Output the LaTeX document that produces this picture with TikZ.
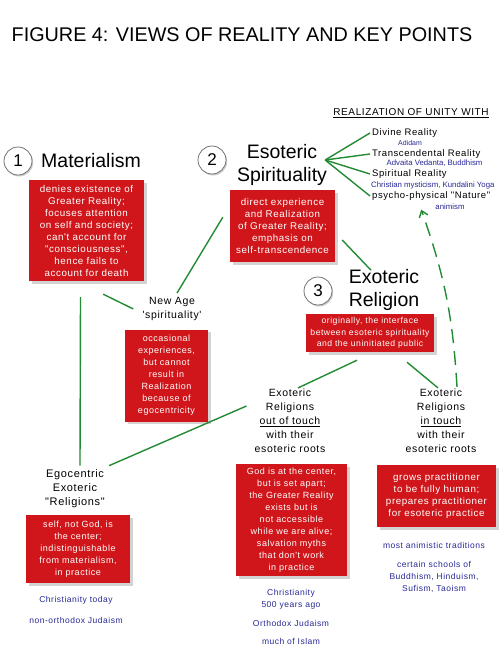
\documentclass[tikz,border=0pt]{standalone}
\usepackage{fontspec}
\newfontfamily\af{Liberation Sans}
\newfontfamily\afsp{Liberation Sans}[LetterSpace=6]
\usetikzlibrary{arrows.meta,shadows}
\definecolor{boxred}{RGB}{208,22,26}
\definecolor{linkgreen}{RGB}{34,139,52}
\definecolor{noteblue}{RGB}{40,40,150}

\begin{document}
\begin{tikzpicture}[
    x=1pt, y=-1pt,
    redbox/.style={rectangle, fill=boxred, text=white, align=center, inner sep=2pt, font=\afsp\fontsize{9}{12}\selectfont, drop shadow={shadow xshift=2.5pt, shadow yshift=-2.5pt, opacity=0.35}},
    bigred/.style={redbox, font=\afsp\fontsize{9.8}{12}\selectfont},
    numcirc/.style={circle, draw=black!55, fill=white, line width=0.8pt, minimum size=28pt, inner sep=0pt, font=\af\fontsize{17}{17}\selectfont, drop shadow={shadow xshift=1.2pt, shadow yshift=-1.5pt, opacity=0.4}},
    heading/.style={align=center, font=\af\fontsize{19.5}{23}\selectfont, inner sep=1pt},
    plaintext/.style={align=center, font=\afsp\fontsize{10.5}{14}\selectfont, inner sep=1pt},
    unity/.style={anchor=west, font=\afsp\fontsize{9.5}{11}\selectfont, inner sep=1pt},
    examples/.style={align=center, text=noteblue, font=\afsp\fontsize{8.5}{12}\selectfont, inner sep=1pt},
    subnote/.style={text=noteblue, font=\af\fontsize{7.8}{9}\selectfont, inner sep=0pt},
    greenlink/.style={draw=linkgreen, line width=1.4pt},
]
\useasboundingbox (0,0) rectangle (500,648);

\node[font=\af\fontsize{19.8}{24}\selectfont] (title) at (242,35) {FIGURE 4: VIEWS OF REALITY AND KEY POINTS};

% 1: materialism
\node[numcirc] (c1) at (18,161) {1};
\node[heading, anchor=west] (mat) at (40,161) {Materialism};
\node[bigred, minimum width=115pt, minimum height=101pt] (matbox) at (86.5,230.5) {denies existence of\\Greater Reality;\\focuses attention\\on self and society;\\can't account for\\"consciousness",\\hence fails to\\account for death};

% 2: esoteric spirituality
\node[numcirc] (c2) at (212,160) {2};
\node[heading] (eso) at (282,165) {Esoteric\\Spirituality};
\node[bigred, minimum width=105pt, minimum height=72pt] (esobox) at (282.5,226) {direct experience\\and Realization\\of Greater Reality;\\emphasis on\\self-transcendence};

% realization of unity
\node[font=\afsp\fontsize{10}{11}\selectfont] (unityhead) at (411,113) {\underline{REALIZATION OF UNITY WITH}};
\node[unity] (divine) at (371,133) {Divine Reality};
\node[subnote, font=\af\fontsize{7}{8}\selectfont] (adidam) at (410,143) {Adidam};
\node[unity] (trans) at (371,154) {Transcendental Reality};
\node[subnote] (advaita) at (434.5,163.5) {Advaita Vedanta, Buddhism};
\node[unity] (spirit) at (371,174) {Spiritual Reality};
\node[subnote, anchor=west] (mystic) at (371,185) {Christian mysticism, Kundalini Yoga};
\node[unity] (psycho) at (371,196) {psycho-physical "Nature"};
\node[subnote] (animism) at (450,207) {animism};

\coordinate (fan) at ([shift={(-3,-5)}]eso.east);
\foreach \target in {divine, trans, spirit, psycho}
    \draw[greenlink] (fan) -- ([xshift=-1pt]\target.west);

% new age
\node[plaintext] (newage) at (172,309) {New Age\\'spirituality'};
\node[redbox, minimum width=83pt, minimum height=92pt] (nabox) at (166.5,375.5) {occasional\\experiences,\\but cannot\\result in\\Realization\\because of\\egocentricity};

% 3: exoteric religion
\node[numcirc] (c3) at (318,291) {3};
\node[heading] (exo) at (384,290) {Exoteric\\Religion};
\node[redbox, minimum width=128pt, minimum height=38pt, font=\afsp\fontsize{8.6}{11.5}\selectfont] (exobox) at (370,333) {originally, the interface\\between esoteric spirituality\\and the uninitiated public};

% exoteric branches
\node[plaintext] (outof) at (290,421) {Exoteric\\Religions\\\underline{out of touch}\\with their\\esoteric roots};
\node[plaintext] (intouch) at (441,421) {Exoteric\\Religions\\\underline{in touch}\\with their\\esoteric roots};
\node[redbox, minimum width=111pt, minimum height=112pt] (godbox) at (291.5,520) {God is at the center,\\but is set apart;\\the Greater Reality\\exists but is\\not accessible\\while we are alive;\\salvation myths\\that don't work\\in practice};
\node[examples] (past) at (291,599) {Christianity\\500 years ago};
\node[examples] (orthodox) at (291,623) {Orthodox Judaism};
\node[examples] (islam) at (291,641) {much of Islam};
\node[bigred, minimum width=119pt, minimum height=62pt] (growbox) at (436.5,496) {grows practitioner\\to be fully human;\\prepares practitioner\\for esoteric practice};
\node[examples] (animistic) at (434,545) {most animistic traditions};
\node[examples] (schools) at (434,577) {certain schools of\\Buddhism, Hinduism,\\Sufism, Taoism};

% egocentric
\node[plaintext, font=\afsp\fontsize{11}{14}\selectfont] (ego) at (75,489) {Egocentric\\Exoteric\\"Religions"};
\node[redbox, minimum width=104pt, minimum height=68pt] (egobox) at (78,549) {self, not God, is\\the center;\\indistinguishable\\from materialism,\\in practice};
\node[examples] (today) at (76,600) {Christianity today};
\node[examples] (nonortho) at (76,620) {non-orthodox Judaism};

% connectors
\draw[greenlink] ([shift={(-41,13)}]matbox.south east) -- ([xshift=-8pt]newage.west);
\draw[greenlink] ([shift={(-6,16)}]matbox.south) -- ([shift={(5,-3)}]ego.north);
\draw[greenlink] ([shift={(5,-3)}]newage.north) -- ([shift={(-7,-45)}]esobox.south west);
\draw[greenlink] ([shift={(7,14)}]esobox.east) -- ([shift={(-13,2)}]exo.north);
\draw[greenlink] ([shift={(-13,8)}]exobox.south) -- ([shift={(8,0)}]outof.north);
\draw[greenlink] ([shift={(37,10)}]exobox.south) -- ([shift={(-3,0)}]intouch.north);
\draw[greenlink] ([shift={(-7,-15)}]outof.west) -- ([shift={(3,-3)}]ego.north east);
\draw[greenlink, dash pattern=on 14pt off 8pt, -{Straight Barb[length=6pt, width=9pt]}] ([shift={(16,-1)}]intouch.north) to[bend right=8] ([shift={(-10,8)}]psycho.south);
\end{tikzpicture}
\end{document}
